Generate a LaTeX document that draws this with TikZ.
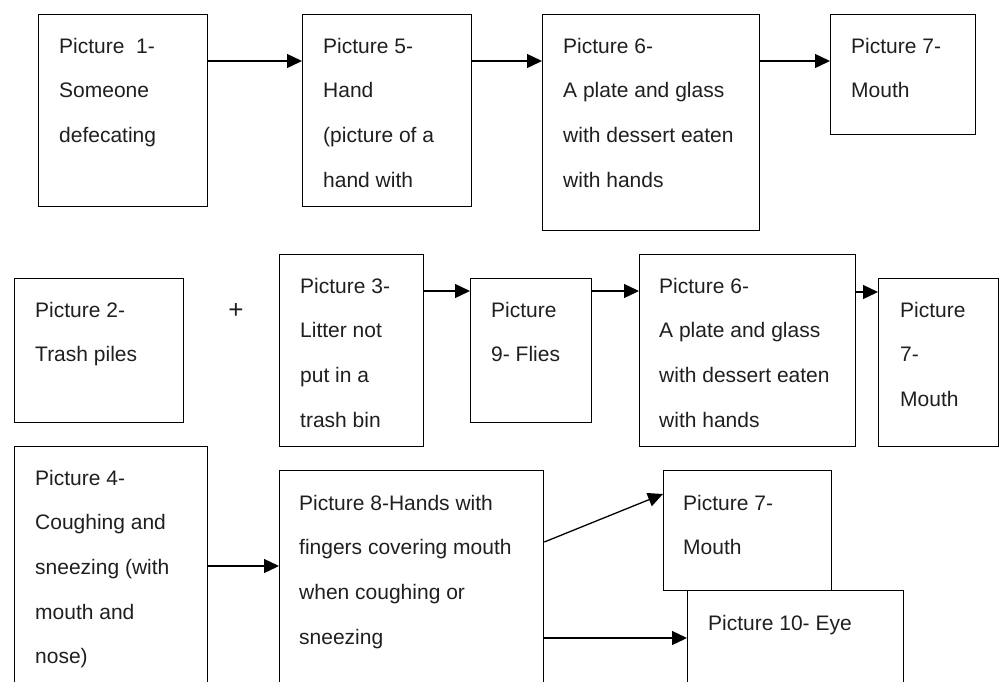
\documentclass[tikz,border=0pt]{standalone}
\usepackage{fontspec}
\setmainfont{Liberation Sans}
\usetikzlibrary{arrows.meta,calc}
\newcommand\firstln{\rule{0pt}{19pt}}
\begin{document}
\begin{tikzpicture}[x=1pt,y=-1pt,
  box/.style={draw,line width=1.3pt,inner sep=0pt,anchor=north west},
  txt/.style={anchor=north west,align=left,inner sep=0pt,text=black!88,font=\fontsize{21}{44.6}\selectfont},
  arr/.style={line width=1.3pt,-{Triangle[length=15pt,width=14pt]}}]
\useasboundingbox (0,0) rectangle (999,681);
\clip (0,0) rectangle (999,681);
% row 1
\node[box,minimum width=169pt,minimum height=192pt] (b1) at (38,14) {};
\node[box,minimum width=169pt,minimum height=192pt] (b5) at (302,14) {};
\node[box,minimum width=217pt,minimum height=216pt] (b6) at (542,14) {};
\node[box,minimum width=145pt,minimum height=120pt] (b7) at (830,14) {};
% row 2
\node[box,minimum width=169pt,minimum height=144pt] (b2) at (14,278) {};
\node[box,minimum width=144pt,minimum height=192pt] (b3) at (279,254) {};
\node[box,minimum width=121pt,minimum height=144pt] (b9) at (470,278) {};
\node[box,minimum width=216pt,minimum height=192pt] (b6b) at (639,254) {};
\node[box,minimum width=120pt,minimum height=168pt] (b7b) at (878,278) {};
% row 3
\node[box,minimum width=193pt,minimum height=260pt] (b4) at (14,446) {};
\node[box,minimum width=264pt,minimum height=240pt] (b8) at (279,470) {};
\node[box,minimum width=168pt,minimum height=120pt] (b7c) at (663,470) {};
\node[box,minimum width=216pt,minimum height=120pt] (b10) at (687,590) {};
% texts (first baseline 39pt below the box top)
\node[txt] (t1) at ($(b1.north west)+(21,20)$) {\firstln Picture~~1-\\Someone\\defecating};
\node[txt] (t5) at ($(b5.north west)+(21,20)$) {\firstln Picture 5-\\Hand\\(picture of a\\hand with};
\node[txt] (t6) at ($(b6.north west)+(21,20)$) {\firstln Picture 6-\\A plate and glass\\with dessert eaten\\with hands};
\node[txt] (t7) at ($(b7.north west)+(21,20)$) {\firstln Picture 7-\\Mouth};
\node[txt] (t2) at ($(b2.north west)+(21,20)$) {\firstln Picture 2-\\Trash piles};
\node[txt] (t3) at ($(b3.north west)+(21,20)$) {\firstln Picture 3-\\Litter not\\put in a\\trash bin};
\node[txt] (t9) at ($(b9.north west)+(21,20)$) {\firstln Picture\\9- Flies};
\node[txt] (t6b) at ($(b6b.north west)+(20,20)$) {\firstln Picture 6-\\A plate and glass\\with dessert eaten\\with hands};
\node[txt] (t7b) at ($(b7b.north west)+(22,20)$) {\firstln Picture\\7-\\Mouth};
\node[txt] (t4) at ($(b4.north west)+(21,20)$) {\firstln Picture 4-\\Coughing and\\sneezing (with\\mouth and\\nose)};
\node[txt] (t8) at ($(b8.north west)+(20,21)$) {\firstln Picture 8-Hands with\\fingers covering mouth\\when coughing or\\sneezing};
\node[txt] (t7c) at ($(b7c.north west)+(20,21)$) {\firstln Picture 7-\\Mouth};
\node[txt] (t10) at ($(b10.north west)+(21,21)$) {\firstln Picture 10- Eye};
\node[font=\fontsize{26}{30}\selectfont,inner sep=0pt,text=black!88] (plus) at (236,311) {+};
% arrows
\draw[arr] ($(b1.north east)+(0,47)$) -- ($(b5.north west)+(0,47)$);
\draw[arr] ($(b5.north east)+(0,47)$) -- ($(b6.north west)+(0,47)$);
\draw[arr] ($(b6.north east)+(0,47)$) -- ($(b7.north west)+(0,47)$);
\draw[arr] ($(b3.north east)+(0,37)$) -- ($(b9.north west)+(0,13)$);
\draw[arr] ($(b9.north east)+(0,13)$) -- ($(b6b.north west)+(0,37)$);
\draw[arr] ($(b6b.north east)+(0,38)$) -- ($(b7b.north west)+(0,14)$);
\draw[arr] ($(b4.north east)+(0,120)$) -- ($(b8.north west)+(0,96)$);
\draw[arr] ($(b8.north east)+(0,72)$) -- ($(b7c.north west)+(0,24)$);
\draw[arr] ($(b8.north east)+(0,168)$) -- ($(b10.north west)+(0,48)$);
\end{tikzpicture}
\end{document}
